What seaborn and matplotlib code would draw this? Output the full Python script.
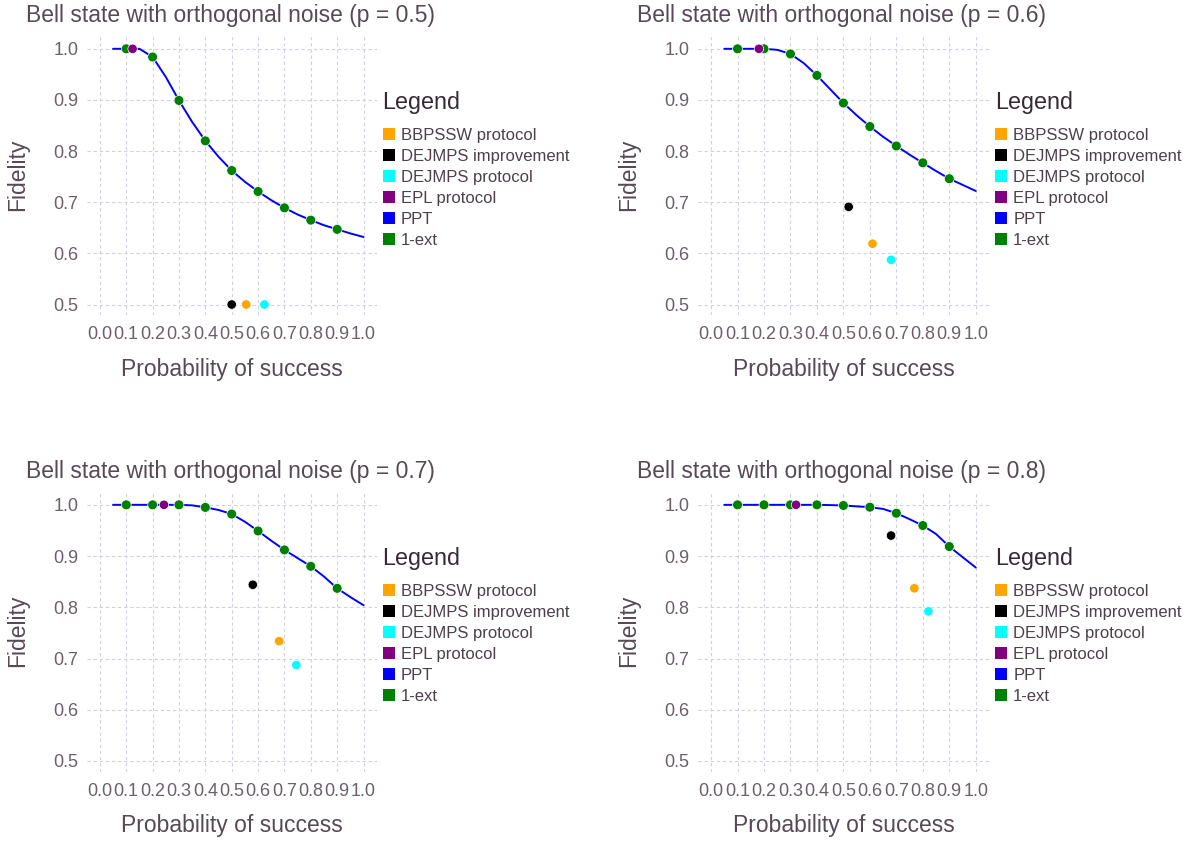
import numpy as np
import pandas as pd
import matplotlib
matplotlib.use("Agg")
import matplotlib.pyplot as plt
from matplotlib.lines import Line2D
import seaborn as sns

# noise levels, one panel each
noise = [0.5, 0.6, 0.7, 0.8]

# PPT curve, sampled every 0.05
ppt_x = [0.05, 0.10, 0.15, 0.20, 0.25, 0.30, 0.35, 0.40, 0.45, 0.50,
         0.55, 0.60, 0.65, 0.70, 0.75, 0.80, 0.85, 0.90, 0.95, 1.00]
ppt_05 = [1.0, 1.0, 1.0, 0.984, 0.945, 0.899, 0.857, 0.820, 0.789, 0.762,
          0.740, 0.721, 0.704, 0.689, 0.676, 0.665, 0.655, 0.647, 0.639, 0.632]
ppt_06 = [1.0, 1.0, 1.0, 1.0, 0.998, 0.990, 0.972, 0.948, 0.921, 0.894,
          0.870, 0.848, 0.828, 0.810, 0.793, 0.777, 0.761, 0.746, 0.734, 0.722]
ppt_07 = [1.0, 1.0, 1.0, 1.0, 1.0, 1.0, 0.999, 0.995, 0.990, 0.982,
          0.967, 0.949, 0.930, 0.912, 0.896, 0.880, 0.860, 0.837, 0.820, 0.804]
ppt_08 = [1.0, 1.0, 1.0, 1.0, 1.0, 1.0, 1.0, 1.0, 0.9995, 0.9987,
          0.997, 0.9954, 0.992, 0.9837, 0.972, 0.9596, 0.943, 0.9186, 0.898, 0.8776]

# 1-ext points
ext_x = [0.1, 0.2, 0.3, 0.4, 0.5, 0.6, 0.7, 0.8, 0.9]
ext_05 = [1.0, 0.984, 0.899, 0.820, 0.762, 0.721, 0.689, 0.665, 0.647]
ext_06 = [1.0, 1.0, 0.990, 0.948, 0.894, 0.848, 0.810, 0.777, 0.746]
ext_07 = [1.0, 1.0, 1.0, 0.995, 0.982, 0.949, 0.912, 0.880, 0.837]
ext_08 = [1.0, 1.0, 1.0, 1.0, 0.9987, 0.9954, 0.9837, 0.9596, 0.9186]

# single protocol points (probability of success, fidelity)
protocols = ["BBPSSW protocol", "DEJMPS improvement", "DEJMPS protocol", "EPL protocol"]
prot_x_05 = [0.555, 0.500, 0.624, 0.124]
prot_y_05 = [0.500, 0.500, 0.500, 1.000]
prot_x_06 = [0.610, 0.520, 0.680, 0.181]
prot_y_06 = [0.619, 0.691, 0.5875, 1.000]
prot_x_07 = [0.680, 0.580, 0.745, 0.243]
prot_y_07 = [0.734, 0.844, 0.6875, 1.000]
prot_x_08 = [0.768, 0.680, 0.821, 0.321]
prot_y_08 = [0.837, 0.940, 0.792, 1.000]

legend_labels = ["BBPSSW protocol", "DEJMPS improvement", "DEJMPS protocol",
                 "EPL protocol", "PPT", "1-ext"]
legend_colors = ["orange", "black", "cyan", "purple", "blue", "green"]
palette = dict(zip(legend_labels, legend_colors))

ppt_all = [ppt_05, ppt_06, ppt_07, ppt_08]
ext_all = [ext_05, ext_06, ext_07, ext_08]
px_all = [prot_x_05, prot_x_06, prot_x_07, prot_x_08]
py_all = [prot_y_05, prot_y_06, prot_y_07, prot_y_08]

sns.set_theme(style="white")
plt.rcParams['font.family'] = ['Liberation Sans', 'DejaVu Sans']

TXT = "#564A55"
TICK = "#6C606B"
GRID = "#D0D0E0"

fig = plt.figure(figsize=(12.02, 8.43), dpi=100)
W, H = 1202, 843
# axes boxes in pixels: left, top, right, bottom
boxes = [(86.7, 35, 376.7, 315), (697.8, 35, 989.0, 315),
         (86.7, 491, 376.7, 771.5), (697.8, 491, 989.0, 771.5)]

for i, p in enumerate(noise):
    l, t, r, b = boxes[i]
    ax = fig.add_axes([l / W, (H - b) / H, (r - l) / W, (b - t) / H])

    line_df = pd.DataFrame({"x": ppt_x, "y": ppt_all[i]})
    ext_df = pd.DataFrame({"x": ext_x, "y": ext_all[i], "method": "1-ext"})
    prot_df = pd.DataFrame({"x": px_all[i], "y": py_all[i], "method": protocols})

    sns.lineplot(data=line_df, x="x", y="y", color="blue", lw=1.4, ax=ax, zorder=3)
    sns.scatterplot(data=ext_df, x="x", y="y", hue="method", palette=palette,
                    s=50, edgecolor="white", linewidth=0.5, legend=False, ax=ax, zorder=4)
    sns.scatterplot(data=prot_df, x="x", y="y", hue="method", palette=palette,
                    s=46, edgecolor="white", linewidth=0.5, legend=False, ax=ax, zorder=5)

    ax.set_xlim(-0.05, 1.05)
    ax.set_ylim(0.4795, 1.027)
    ax.set_xticks(np.arange(0, 1.01, 0.1))
    ax.set_xticklabels([f"{v:.1f}" for v in np.arange(0, 1.01, 0.1)])
    ax.set_yticks(np.arange(0.5, 1.01, 0.1))
    ax.set_yticklabels([f"{v:.1f}" for v in np.arange(0.5, 1.01, 0.1)])
    ax.tick_params(axis="both", length=0, labelsize=13, labelcolor=TICK)
    ax.tick_params(axis="x", pad=8)
    ax.tick_params(axis="y", pad=6)
    ax.grid(True, color=GRID, linestyle=(0, (3, 2.5)), lw=0.8)
    for s in ax.spines.values():
        s.set_visible(False)

    ax.set_xlabel("Probability of success", fontsize=16.5, color=TXT)
    ax.xaxis.set_label_coords(0.5, -0.193)
    ax.xaxis.label.set_va("center")
    ax.set_ylabel("Fidelity", fontsize=16.5, color=TXT)
    ax.yaxis.set_label_coords(-0.237, 0.5)
    ax.yaxis.label.set_va("center")

    ax.text(-0.209, 1.048, f"Bell state with orthogonal noise (p = {p})",
            transform=ax.transAxes, fontsize=16.5, color=TXT, ha="left", va="baseline")

    handles = [Line2D([], [], marker="s", linestyle="", markersize=8.5,
                      markerfacecolor=c, markeredgewidth=0, color=c)
               for c in legend_colors]
    leg = ax.legend(handles, legend_labels, title="Legend", loc="upper left",
                    bbox_to_anchor=(1.02, 0.80), frameon=False, borderpad=0,
                    borderaxespad=0, handlelength=0.8, handletextpad=0.3,
                    labelspacing=0.36, fontsize=12, title_fontsize=16.8)
    leg._legend_box.align = "left"
    leg._legend_box.sep = 10
    leg.get_title().set_color("#362A35")
    for txt in leg.get_texts():
        txt.set_color("#4C404B")

fig.savefig("out.png", dpi=100)
